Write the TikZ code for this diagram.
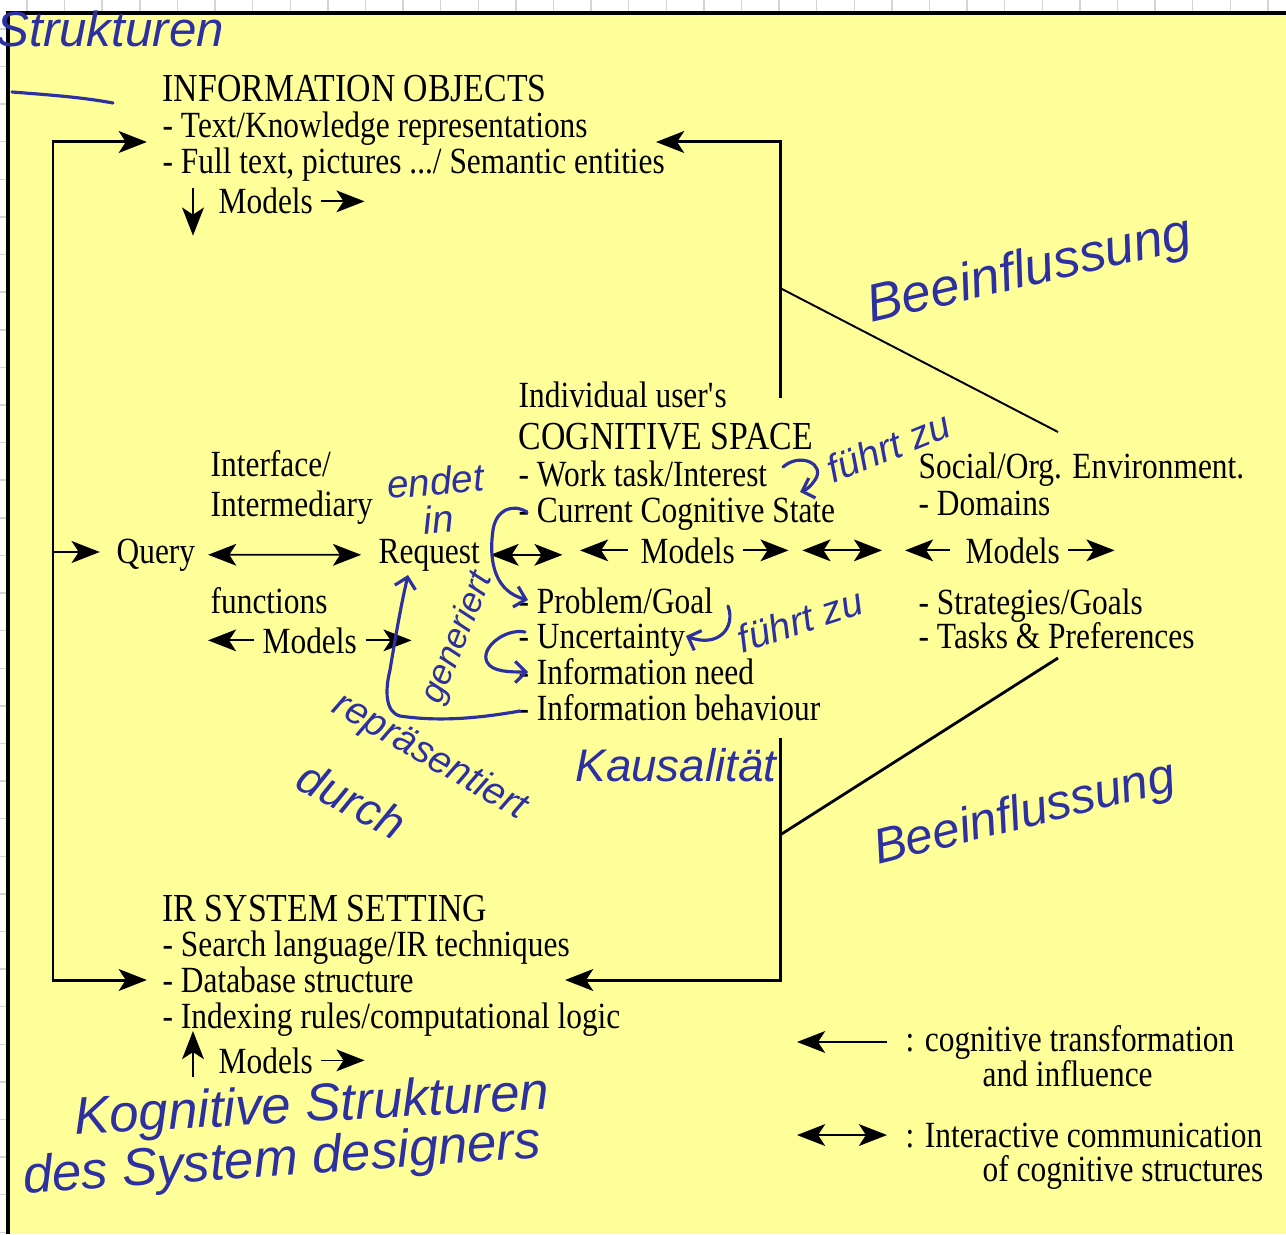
\documentclass[tikz,border=0pt]{standalone}
\usepackage{fontspec}
\setmainfont{Liberation Serif}[FakeStretch=0.85]
\newfontfamily\handfont{Liberation Sans}
\usetikzlibrary{arrows.meta,calc}
\definecolor{paper}{RGB}{255,255,153}
\definecolor{ink}{RGB}{44,48,160}
\definecolor{gridgray}{RGB}{212,212,212}

\begin{document}
\begin{tikzpicture}[x=0.01cm,y=-0.01cm,
    font=\fontsize{10.5}{12}\selectfont,
    lbl/.style={anchor=base west,inner sep=0pt},
    head/.style={lbl,font=\fontsize{11.3}{12}\selectfont},
    frame/.style={line width=0.85pt},
    thinarrow/.style={line width=0.5pt},
    onearrow/.style={-{Stealth[length=8pt,width=6.2pt,inset=2pt]}},
    twoarrow/.style={{Stealth[length=8pt,width=6.2pt,inset=2pt]}-{Stealth[length=8pt,width=6.2pt,inset=2pt]}},
    hand/.style={ink,inner sep=0pt,font=\handfont\itshape\fontsize{#1}{#1}\selectfont},
    handline/.style={ink,line width=0.9pt,line cap=round,line join=round},
    handtip/.style={-{Straight Barb[length=3pt,width=6pt]}}]
\useasboundingbox (0,0) rectangle (1286,1234);

% paper
\fill[white] (0,0) rectangle (1286,1234);
\foreach \gx in {0,...,33}
  \draw[gridgray] ({27+37.6*\gx},0) -- ++(0,13);
\foreach \gy in {0,...,32}
  \draw[gridgray] (0,{29+37.6*\gy}) -- ++(8,0);
\fill[paper] (8,13) rectangle (1286,1234);
\draw[line width=1pt] (8,1234) -- (8,13) -- (1286,13);

% information objects
\node[head] (io) at (162,102) {INFORMATION OBJECTS};
\node[lbl] (io1) at (162,138) {- Text/Knowledge representations};
\node[lbl] (io2) at (162,174) {- Full text, pictures .../ Semantic entities};
\node[lbl] (iomod) at (218,214) {Models};

% cognitive space
\node[lbl] (cog0) at (518,408) {Individual user\textquotesingle s};
\node[head] (cog) at (518,449) {COGNITIVE SPACE};
\node[lbl] (work) at (518,486) {- Work task/Interest};
\node[lbl] (cur) at (518,522) {- Current Cognitive State};
\node[lbl] (prob) at (518,613) {- Problem/Goal};
\node[lbl] (unc) at (518,648) {- Uncertainty};
\node[lbl] (need) at (518,684) {- Information need};
\node[lbl] (beh) at (518,720) {- Information behaviour};

% interface
\node[lbl] (iface) at (210,476) {Interface/};
\node[lbl] (imed) at (210,516) {Intermediary};
\node[lbl] (query) at (116,563) {Query};
\node[lbl] (request) at (378,563) {Request};
\node[lbl] (func) at (210,613) {functions};
\node[lbl] (fmod) at (262,653) {Models};
\node[lbl] (cmod) at (640,563) {Models};

% social environment
\node[lbl] (soc) at (918,478) {Social/Org. Environment.};
\node[lbl] (dom) at (918,515) {- Domains};
\node[lbl] (smod) at (965,563) {Models};
\node[lbl] (strat) at (918,614) {- Strategies/Goals};
\node[lbl] (tasks) at (918,648) {- Tasks \& Preferences};

% ir system
\node[head] (ir) at (162,921) {IR SYSTEM SETTING};
\node[lbl] (ir1) at (162,956) {- Search language/IR techniques};
\node[lbl] (ir2) at (162,992) {- Database structure};
\node[lbl] (ir3) at (162,1028) {- Indexing rules/computational logic};
\node[lbl] (irmod) at (218,1073) {Models};

% legend
\node[lbl] (leg1) at (905,1051) {: cognitive transformation};
\node[lbl] (leg2) at (982,1086) {and influence};
\node[lbl] (leg3) at (905,1147) {: Interactive communication};
\node[lbl] (leg4) at (982,1181) {of cognitive structures};

% frame
\coordinate (lt) at (53,142);
\coordinate (lm) at (53,552);
\coordinate (lb) at (53,980);
\coordinate (rt) at (780,142);
\coordinate (ru) at (780,398);
\coordinate (rl) at (780,738);
\coordinate (rb) at (780,980);
\coordinate (ioret) at (656,142);
\coordinate (irret) at (565,980);
\draw[frame,twoarrow,shorten <=4.3pt,shorten >=4.3pt] (io1.west |- lt) -- (lt) -- (lb) -- (ir2.west |- lb);
\draw[frame,onearrow,shorten >=4.6pt] (lm) -- (query.west |- lm);
\draw[frame,onearrow] (ru) -- (rt) -- (ioret);
\draw[frame,onearrow] (rl) -- (rb) -- (irret);
\draw[line width=0.55pt] (780,288) -- (1058,432);
\draw[line width=0.8pt] (780,835) -- (1058,658);

% arrows
\draw[thinarrow,onearrow] ($(iomod.north west)+(-25,0)$) -- ++(0,48);
\draw[thinarrow,onearrow] ($(iomod.east)+(7,0)$) -- ++(44,0);
\draw[thinarrow,twoarrow,shorten <=3.5pt,shorten >=4.8pt] (query.east) -- (request.west);
\draw[thinarrow,twoarrow] ($(request.east)+(10,0)$) -- ++(72,0);
\draw[thinarrow,onearrow] ($(cmod.west)+(-12,0)$) -- ++(-48,0);
\draw[thinarrow,onearrow] ($(cmod.east)+(7,0)$) -- ++(46,0);
\draw[thinarrow,twoarrow,shorten <=19pt,shorten >=23.6pt] (cmod.east) -- (smod.west);
\draw[thinarrow,onearrow] ($(smod.west)+(-15,0)$) -- ++(-45,0);
\draw[thinarrow,onearrow] ($(smod.east)+(7,0)$) -- ++(47,0);
\draw[thinarrow,onearrow] ($(fmod.west)+(-8,0)$) -- ++(-46,0);
\draw[thinarrow,onearrow] ($(fmod.east)+(8,0)$) -- ++(46,0);
\draw[thinarrow,onearrow] ($(irmod.base west)+(-25,4)$) -- ++(0,-46);
\draw[thinarrow,onearrow] ($(irmod.east)+(7,0)$) -- ++(44,0);
\draw[thinarrow,onearrow] ($(leg1.west)+(-18,0)$) -- ++(-90,0);
\draw[thinarrow,twoarrow] ($(leg3.west)+(-18,0)$) -- ++(-90,0);

% handwriting
\node[hand=14,anchor=base west] (hstruk) at (-4,47) {Strukturen};
\node[hand=15,rotate=13] (hbeein1) at (1030,272) {Beeinflussung};
\node[hand=11,rotate=5,align=center] (hendet) at (437,500) {endet\\in};
\node[hand=11,rotate=22] (hfuehrt1) at (888,447) {führt zu};
\node[hand=10,rotate=68] (hgen) at (458,638) {generiert};
\node[hand=11,rotate=18] (hfuehrt2) at (800,620) {führt zu};
\node[hand=11,rotate=-30] (hrep) at (430,757) {repräsentiert};
\node[hand=13,rotate=-28] (hdurch) at (352,800) {durch};
\node[hand=13] (hkaus) at (676,765) {Kausalität};
\node[hand=14,rotate=14] (hbeein2) at (1025,815) {Beeinflussung};
\node[hand=15,rotate=3] (hkog) at (312,1108) {Kognitive Strukturen};
\node[hand=15,rotate=4] (hdes) at (282,1162) {des System designers};

% hand strokes
\draw[handline] (12,92) .. controls (50,95) and (80,97) .. (113,103);
\draw[handline,handtip] (783,467) .. controls (800,452) and (826,464) .. (815,480) .. controls (811,486) and (806,490) .. (800,492);
\draw[handline,handtip] (527,512) .. controls (512,503) and (496,510) .. (493,530) .. controls (488,565) and (497,592) .. (528,600);
\draw[handline,handtip] (728,606) .. controls (736,628) and (718,648) .. (686,636);
\draw[handline,handtip] (525,632) .. controls (505,628) and (480,648) .. (487,662) .. controls (492,672) and (510,672) .. (528,672);
\draw[handline,handtip] (520,711) .. controls (480,718) and (440,722) .. (400,716) .. controls (385,712) and (385,690) .. (390,670) .. controls (395,640) and (400,610) .. (408,575);
\end{tikzpicture}
\end{document}
